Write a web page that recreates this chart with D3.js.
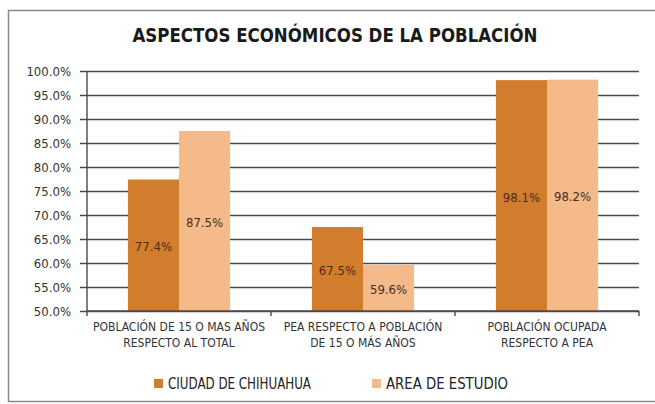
<!DOCTYPE html>
<html lang="es">
<head>
	<meta charset="UTF-8">
	<title>aspectos economicos</title>
	<style>
		* { margin: 0; padding: 0; }
		body { background: #fff; }
		svg { display: block; }
		text { font-family: "Liberation Sans Narrow", "Arial Narrow", "DejaVu Sans Condensed", sans-serif; }
	</style>
</head>
<body>
	<script src="https://cdn.jsdelivr.net/npm/d3@7"></script>
	<script>
		// datos
		var categories = [
			['POBLACIÓN DE 15 O MAS AÑOS', 'RESPECTO AL TOTAL'],
			['PEA RESPECTO A POBLACIÓN', 'DE 15 O MÁS AÑOS'],
			['POBLACIÓN OCUPADA', 'RESPECTO A PEA']
		];
		var seriesNames = ['CIUDAD DE CHIHUAHUA', 'AREA DE ESTUDIO'];
		var ciudad = [77.4, 67.5, 98.1];
		var area = [87.5, 59.6, 98.2];
		var yTicks = [50, 55, 60, 65, 70, 75, 80, 85, 90, 95, 100];
		var colors = ['#d27c2e', '#f4ba8a'];

		var width = 655, height = 404;
		var plot = { left: 87, right: 639, top: 71, bottom: 311 };

		var svg = d3.select('body').append('svg').attr('width', width).attr('height', height);

		// marco
		svg.append('rect')
			.attr('x', 8.5).attr('y', 10.5)
			.attr('width', 660).attr('height', 391)
			.attr('fill', 'none').attr('stroke', '#8a8a8a').attr('stroke-width', 1.5);

		// titulo
		svg.append('text')
			.attr('x', 335).attr('y', 42)
			.attr('text-anchor', 'middle')
			.attr('textLength', 405).attr('lengthAdjust', 'spacingAndGlyphs')
			.style('font-size', '19px').style('font-weight', 'bold')
			.style('fill', '#1a1a1a')
			.text('ASPECTOS ECONÓMICOS DE LA POBLACIÓN');

		var x0 = d3.scaleBand().domain(d3.range(categories.length))
			.range([plot.left, plot.right]).paddingInner(0).paddingOuter(0);
		var x1 = d3.scaleBand().domain([0, 1]).range([0, x0.bandwidth()]).paddingOuter(0.8);
		var y = d3.scaleLinear().domain([50, 100]).range([plot.bottom, plot.top]);

		// rejilla y eje y
		var yAxis = svg.append('g')
			.attr('transform', 'translate(' + plot.left + ',0)')
			.call(d3.axisLeft(y).tickValues(yTicks)
				.tickSize(plot.left - plot.right)
				.tickSizeOuter(0)
				.tickFormat(function (d) { return d.toFixed(1) + '%'; }));
		yAxis.select('.domain').remove();
		yAxis.selectAll('.tick line')
			.attr('x1', -7)
			.attr('stroke', '#4a4a4a').attr('stroke-width', 1.4);
		yAxis.selectAll('.tick text')
			.style('font-size', '13px').style('fill', '#333')
			.attr('x', -16);

		svg.append('line')
			.attr('x1', plot.left).attr('x2', plot.left)
			.attr('y1', plot.top).attr('y2', plot.bottom)
			.attr('stroke', '#4a4a4a').attr('stroke-width', 1.4);

		// barras
		var groups = svg.selectAll('.grp')
			.data(categories.map(function (c, i) { return [ciudad[i], area[i]]; }))
			.enter().append('g')
			.attr('class', 'grp')
			.attr('transform', function (d, i) { return 'translate(' + x0(i) + ',0)'; });

		groups.selectAll('rect')
			.data(function (d) { return d; })
			.enter().append('rect')
			.attr('x', function (d, j) { return x1(j); })
			.attr('y', function (d) { return y(d); })
			.attr('width', x1.bandwidth())
			.attr('height', function (d) { return plot.bottom - y(d); })
			.attr('fill', function (d, j) { return colors[j]; });

		groups.selectAll('.lbl')
			.data(function (d) { return d; })
			.enter().append('text')
			.attr('class', 'lbl')
			.attr('x', function (d, j) { return x1(j) + x1.bandwidth() / 2; })
			.attr('y', function (d) { return (y(d) + plot.bottom) / 2 + 6; })
			.attr('text-anchor', 'middle')
			.style('font-size', '13px').style('fill', '#4a2c18')
			.text(function (d) { return d.toFixed(1) + '%'; });

		// eje x
		var xAxis = svg.append('g')
			.attr('transform', 'translate(0,' + plot.bottom + ')');
		xAxis.append('line')
			.attr('x1', plot.left).attr('x2', plot.right)
			.attr('stroke', '#4a4a4a').attr('stroke-width', 1.4);
		xAxis.selectAll('.xt')
			.data(d3.range(categories.length + 1))
			.enter().append('line')
			.attr('x1', function (i) { return plot.left + i * x0.step(); })
			.attr('x2', function (i) { return plot.left + i * x0.step(); })
			.attr('y1', 0).attr('y2', 5)
			.attr('stroke', '#4a4a4a').attr('stroke-width', 1.4);

		var catText = xAxis.selectAll('.cat')
			.data(categories)
			.enter().append('text')
			.attr('class', 'cat')
			.attr('text-anchor', 'middle')
			.style('font-size', '12px').style('fill', '#333')
			.attr('x', function (d, i) { return x0(i) + x0.bandwidth() / 2; })
			.attr('y', 20);
		catText.selectAll('tspan')
			.data(function (d) { return d; })
			.enter().append('tspan')
			.attr('x', function () { return d3.select(this.parentNode).attr('x'); })
			.attr('dy', function (d, k) { return k === 0 ? 0 : 15.5; })
			.text(function (d) { return d; });

		// leyenda
		var legendX = [154, 372];
		var legendW = [143, 122];
		var legend = svg.selectAll('.leg')
			.data(seriesNames)
			.enter().append('g')
			.attr('class', 'leg')
			.attr('transform', function (d, i) { return 'translate(' + legendX[i] + ',379)'; });
		legend.append('rect')
			.attr('width', 9).attr('height', 9)
			.attr('fill', function (d, i) { return colors[i]; });
		legend.append('text')
			.attr('x', 14).attr('y', 10)
			.attr('textLength', function (d, i) { return legendW[i]; })
			.attr('lengthAdjust', 'spacingAndGlyphs')
			.style('font-size', '15px').style('fill', '#222')
			.text(function (d) { return d; });
	</script>
</body>
</html>
